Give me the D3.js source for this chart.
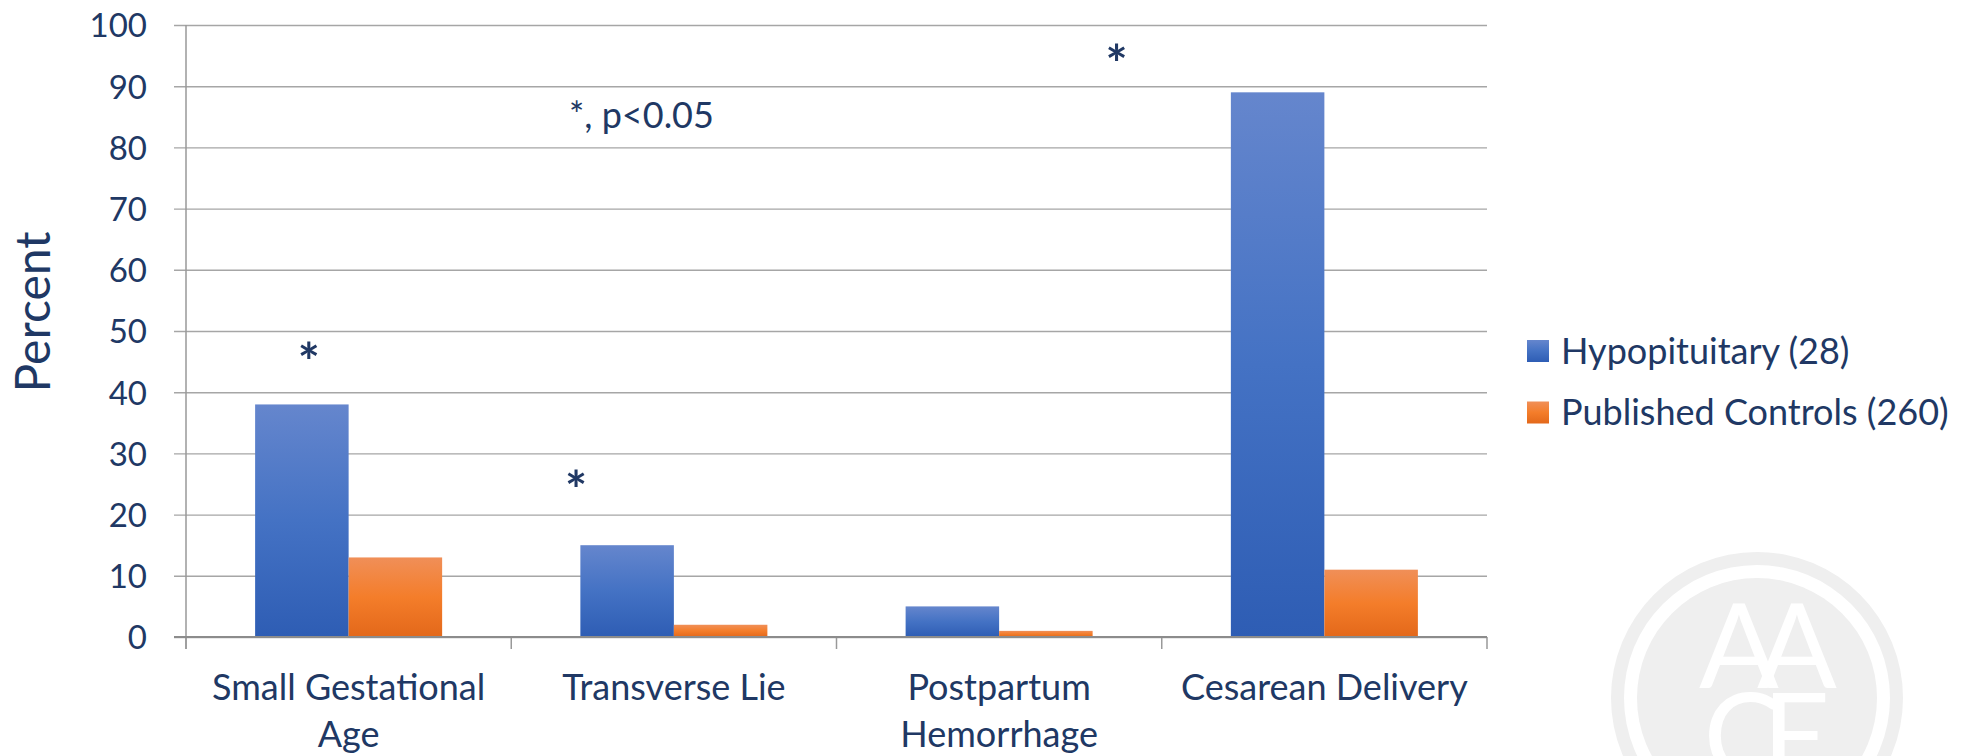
<!DOCTYPE html>
<html lang="en">
<head>
    <meta charset="UTF-8">
    <title>Pregnancy outcomes</title>
    <script src="https://d3js.org/d3.v7.min.js"></script>
    <style>
        * {
            margin: 0;
            padding: 0;
            box-sizing: border-box;
        }
        body {
            background: #fff;
            font-family: Lato, "Open Sans", sans-serif;
        }
        .axis text {
            font-family: Lato, sans-serif;
            fill: #203864;
        }
        .y-axis text { font-size: 33px; }
        .x-axis text { font-size: 36px; }
    </style>
</head>
<body>
    <div id="chart"></div>
    <script>
        // data
        const categories = ["Small Gestational Age", "Transverse Lie", "Postpartum Hemorrhage", "Cesarean Delivery"];
        const seriesNames = ["Hypopituitary (28)", "Published Controls (260)"];
        const hypoValues = [38, 15, 5, 89];
        const controlValues = [13, 2, 1, 11];
        const yTicks = [0, 10, 20, 30, 40, 50, 60, 70, 80, 90, 100];
        // significance marks: category + height (in %) where the star sits
        const starCats = ["Small Gestational Age", "Transverse Lie", "Cesarean Delivery"];
        const starLevels = [47, 26, 95.6];
        const noteText = "*, p<0.05";

        const Width = 1971;
        const Height = 756;
        const Margin = { top: 25, right: 484, bottom: 119, left: 186 };
        const PlotW = Width - Margin.left - Margin.right;
        const PlotH = Height - Margin.top - Margin.bottom;
        const TextColor = "#203864";
        const LabelSize = 36;

        const rows = categories.map((c, i) => ({ cat: c, values: [hypoValues[i], controlValues[i]] }));

        const svg = d3.select("#chart").append("svg")
            .attr("width", Width)
            .attr("height", Height);

        // gradients like the office fill
        const defs = svg.append("defs");
        const gradStops = [
            ["#6586cd", "#4472c4", "#2e5db4"],
            ["#f08f58", "#f47d2a", "#e3681a"]
        ];
        gradStops.forEach((stops, i) => {
            const gr = defs.append("linearGradient")
                .attr("id", "grad" + i)
                .attr("x1", 0).attr("y1", 0).attr("x2", 0).attr("y2", 1);
            gr.append("stop").attr("offset", "0%").attr("stop-color", stops[0]);
            gr.append("stop").attr("offset", "50%").attr("stop-color", stops[1]);
            gr.append("stop").attr("offset", "100%").attr("stop-color", stops[2]);
        });

        // watermark logo (bottom right)
        const logo = svg.append("g").attr("transform", "translate(1757,698)");
        logo.append("circle").attr("r", 146).attr("fill", "#efefef");
        logo.append("circle").attr("r", 133).attr("fill", "#fff");
        logo.append("circle").attr("r", 120).attr("fill", "#efefef");
        const logoText = logo.append("text")
            .attr("text-anchor", "middle")
            .attr("font-family", "Lato, sans-serif")
            .attr("font-size", 118)
            .attr("fill", "#fff");
        logoText.append("tspan").attr("x", 0).attr("y", -10).attr("letter-spacing", -22).text("AA");
        logoText.append("tspan").attr("x", 0).attr("y", 80).attr("letter-spacing", -20).text("CE");

        const g = svg.append("g")
            .attr("transform", `translate(${Margin.left},${Margin.top})`);

        const x0 = d3.scaleBand()
            .domain(categories)
            .range([0, PlotW])
            .paddingInner(0.425)
            .paddingOuter(0.2125);

        const x1 = d3.scaleBand()
            .domain(d3.range(seriesNames.length))
            .range([0, x0.bandwidth()]);

        const y = d3.scaleLinear()
            .domain([0, 100])
            .range([PlotH, 0]);

        // gridlines + tick labels
        const yAxis = g.append("g")
            .attr("class", "axis y-axis")
            .attr("transform", "translate(-12,0)")
            .call(d3.axisLeft(y)
                .tickValues(yTicks)
                .tickSize(-(PlotW + 12))
                .tickPadding(27));
        yAxis.select(".domain").remove();
        yAxis.selectAll(".tick line")
            .attr("stroke", "#a6a6a6")
            .attr("stroke-width", 1.4);
        yAxis.selectAll(".tick text").attr("dy", "0.36em");

        // vertical axis line
        g.append("line")
            .attr("x1", 0).attr("x2", 0)
            .attr("y1", 0).attr("y2", PlotH + 12)
            .attr("stroke", "#999")
            .attr("stroke-width", 1.5);

        // category labels
        const xAxis = g.append("g")
            .attr("class", "axis x-axis")
            .attr("transform", `translate(0,${PlotH})`)
            .call(d3.axisBottom(x0).tickSize(0).tickPadding(63 - 0.71 * LabelSize));
        xAxis.select(".domain").remove();
        xAxis.selectAll(".tick text").call(wrap, x0.step() - 10);

        // category separators
        const half = (x0.step() - x0.bandwidth()) / 2;
        const seps = categories.map(c => x0(c) - half).concat([PlotW]);
        g.selectAll(".sep")
            .data(seps)
            .enter().append("line")
            .attr("class", "sep")
            .attr("x1", d => d).attr("x2", d => d)
            .attr("y1", PlotH).attr("y2", PlotH + 12)
            .attr("stroke", "#999")
            .attr("stroke-width", 1.5);

        // bars
        const groups = g.selectAll(".grp")
            .data(rows)
            .enter().append("g")
            .attr("class", "grp")
            .attr("transform", d => `translate(${x0(d.cat)},0)`);

        groups.selectAll("rect")
            .data(d => d.values.map((v, i) => ({ i: i, v: v })))
            .enter().append("rect")
            .attr("x", d => x1(d.i))
            .attr("y", d => y(d.v))
            .attr("width", x1.bandwidth())
            .attr("height", d => PlotH - y(d.v))
            .attr("fill", d => `url(#grad${d.i})`);

        // baseline
        g.append("line")
            .attr("x1", -12).attr("x2", PlotW)
            .attr("y1", PlotH).attr("y2", PlotH)
            .attr("stroke", "#8c8c8c")
            .attr("stroke-width", 2.2);

        // significance stars (offsets from the blue bar centre)
        const starDx = [7, -51, -161];
        g.selectAll(".star")
            .data(starCats)
            .enter().append("text")
            .attr("class", "star")
            .attr("x", (d, i) => x0(d) + x1(0) + x1.bandwidth() / 2 + starDx[i])
            .attr("y", (d, i) => y(starLevels[i]))
            .attr("dy", "0.6em")
            .attr("text-anchor", "middle")
            .attr("font-family", "Lato, sans-serif")
            .attr("font-weight", "bold")
            .attr("font-size", 52)
            .attr("fill", TextColor)
            .text("*");

        g.append("text")
            .attr("x", 569 - Margin.left)
            .attr("y", 128 - Margin.top)
            .attr("font-family", "Lato, sans-serif")
            .attr("font-size", 36)
            .attr("fill", TextColor)
            .text(noteText);

        // y title
        svg.append("text")
            .attr("transform", "translate(50,312) rotate(-90)")
            .attr("text-anchor", "middle")
            .attr("font-family", "Lato, sans-serif")
            .attr("font-size", 48)
            .attr("fill", TextColor)
            .text("Percent");

        // legend
        const legend = svg.append("g")
            .attr("transform", "translate(1527,340)");
        const items = legend.selectAll(".leg")
            .data(seriesNames)
            .enter().append("g")
            .attr("class", "leg")
            .attr("transform", (d, i) => `translate(0,${i * 61.5})`);
        items.append("rect")
            .attr("width", 22).attr("height", 22)
            .attr("fill", (d, i) => `url(#grad${i})`);
        items.append("text")
            .attr("x", 34).attr("y", 11)
            .attr("dy", "0.36em")
            .attr("font-family", "Lato, sans-serif")
            .attr("font-size", 36)
            .attr("fill", TextColor)
            .text(d => d);

        function wrap(texts, maxW) {
            texts.each(function () {
                const t = d3.select(this);
                const words = t.text().split(/\s+/);
                const y0 = t.attr("y");
                t.text(null);
                let line = [];
                let lineNo = 0;
                let tspan = t.append("tspan").attr("x", 0).attr("y", y0).attr("dy", "0.71em");
                words.forEach(w => {
                    line.push(w);
                    tspan.text(line.join(" "));
                    if (tspan.node().getComputedTextLength() > maxW && line.length > 1) {
                        line.pop();
                        tspan.text(line.join(" "));
                        line = [w];
                        lineNo++;
                        tspan = t.append("tspan").attr("x", 0).attr("y", y0)
                            .attr("dy", (0.71 * LabelSize + lineNo * 47) + "px")
                            .text(w);
                    }
                });
            });
        }
    </script>
</body>
</html>
